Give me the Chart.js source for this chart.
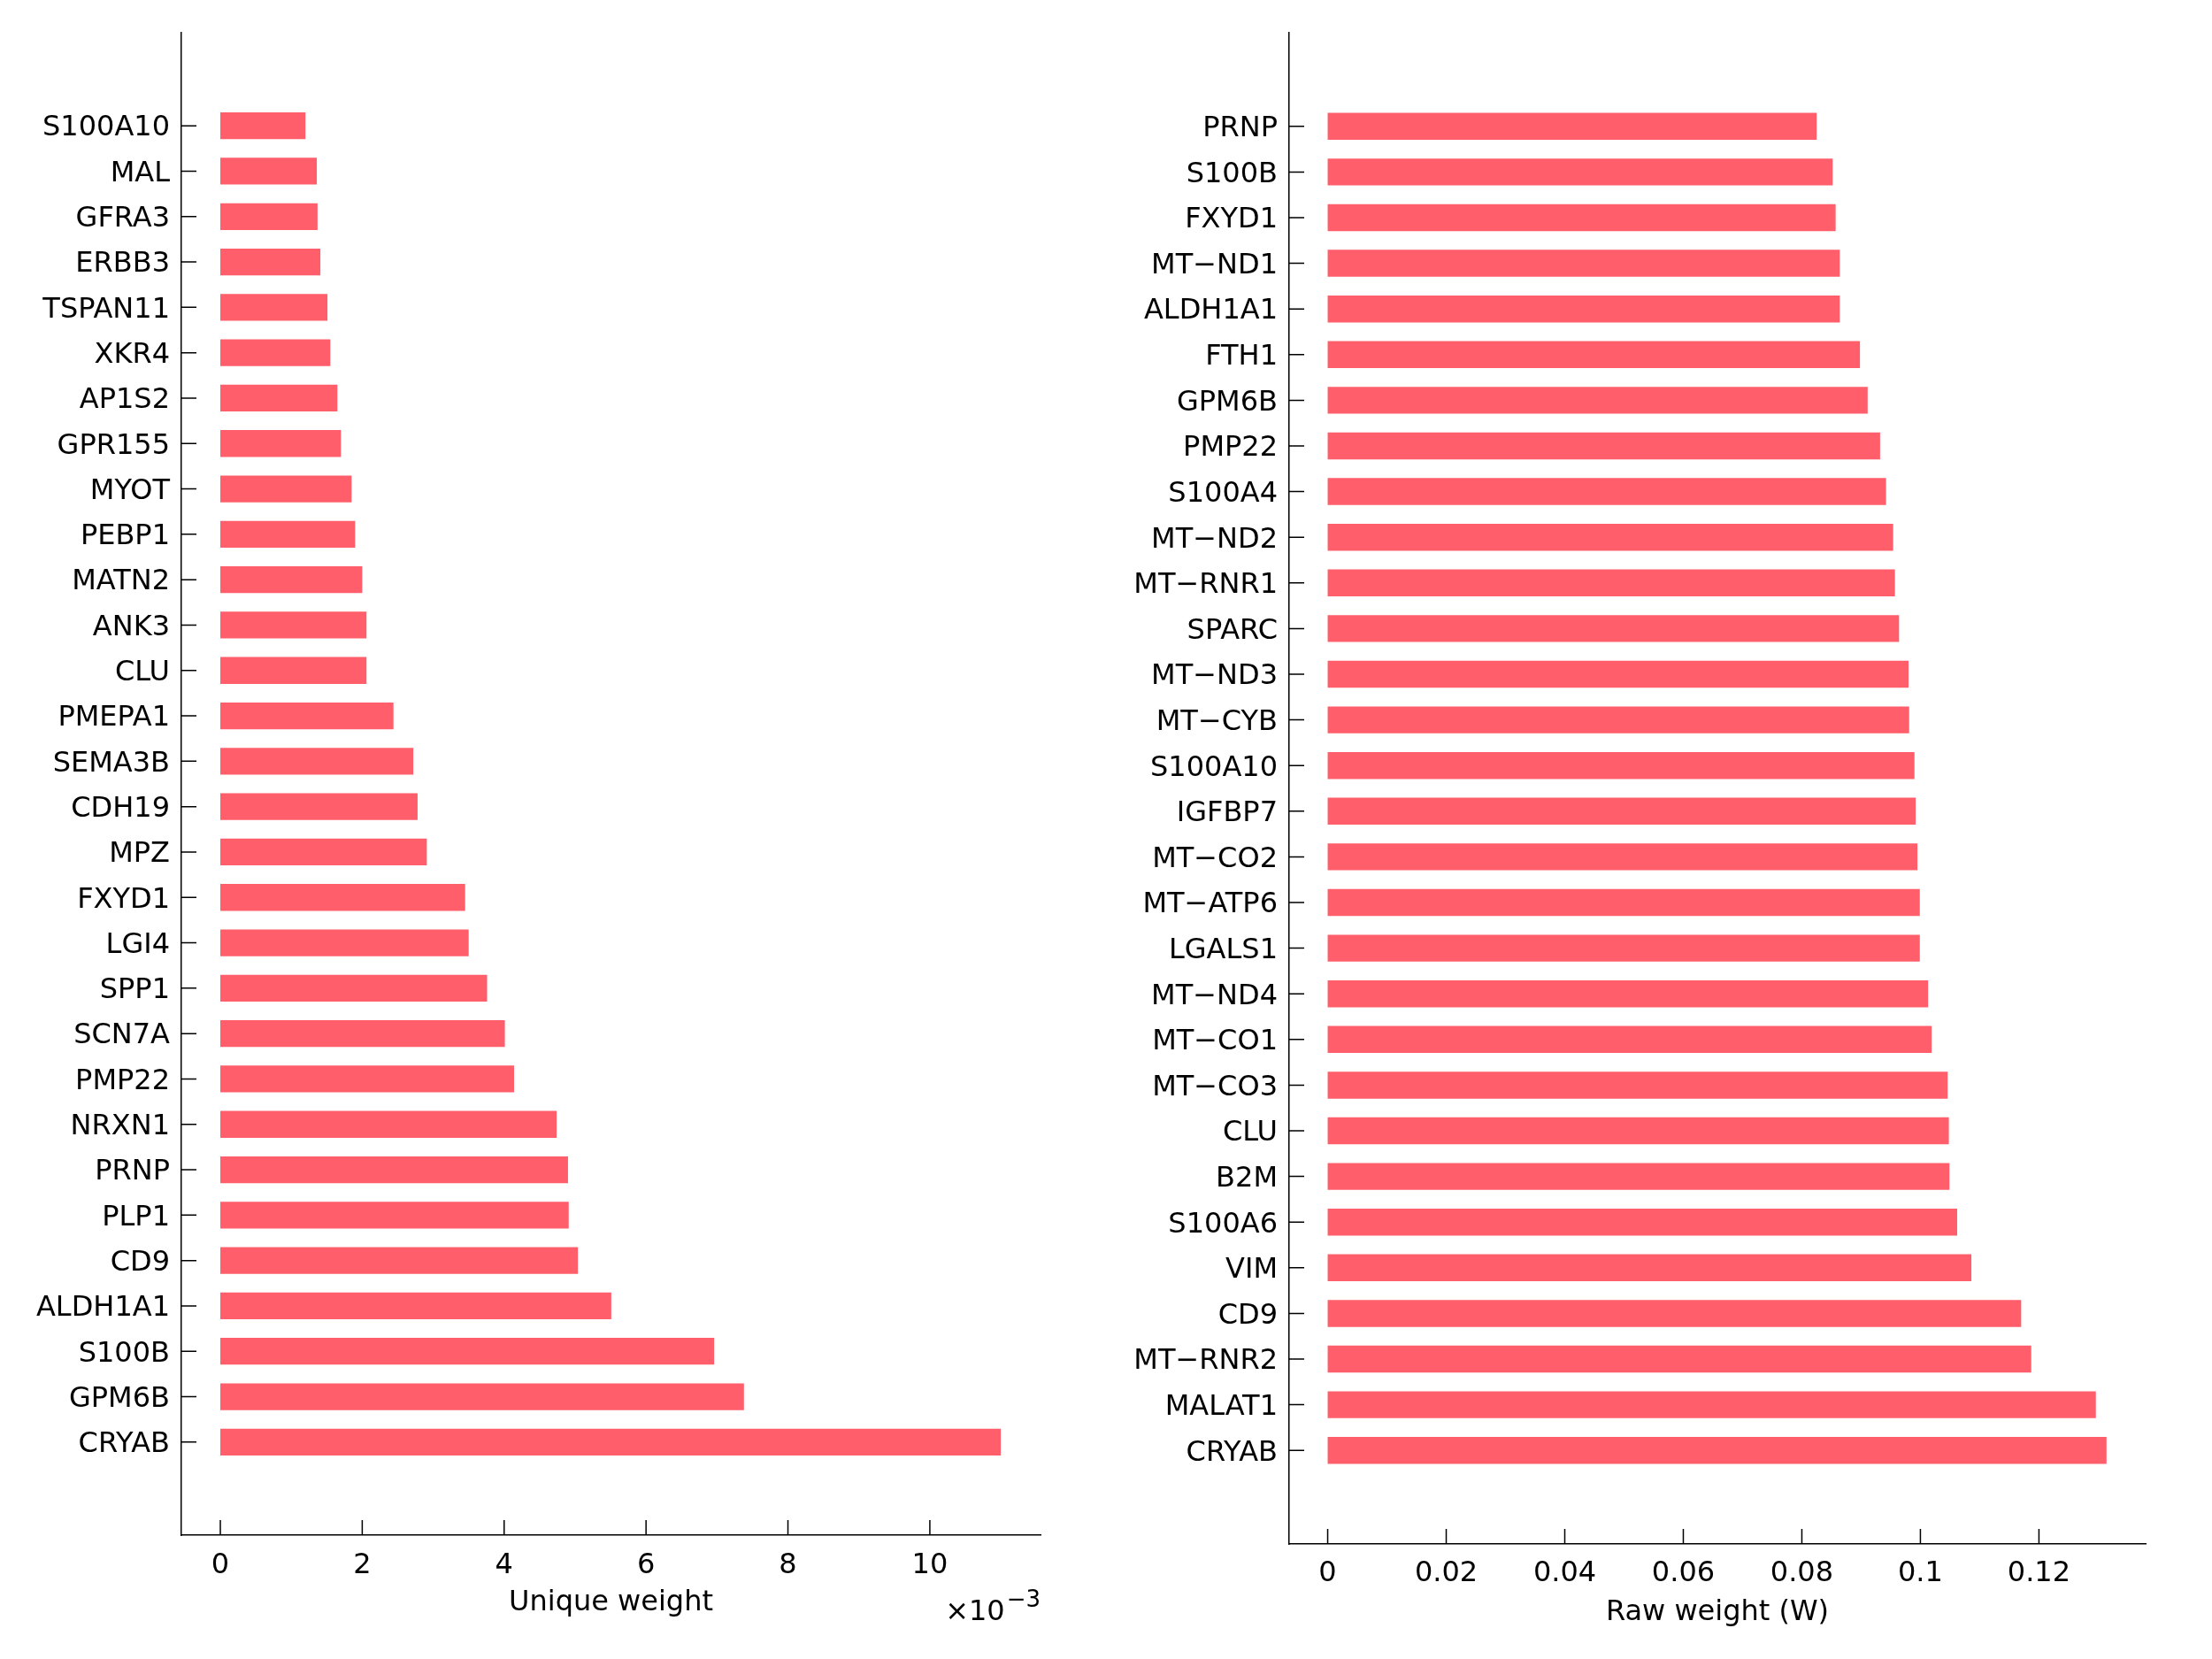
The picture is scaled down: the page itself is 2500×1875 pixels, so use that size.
<!DOCTYPE html>
<html>
<head>
<meta charset="utf-8">
<script src="https://cdn.jsdelivr.net/npm/chart.js@4"></script>
<style>
  body { margin: 0; background: #fff; }
  #wrap { position: relative; width: 2500px; height: 1875px; }
  .panel { position: absolute; top: 0; width: 1250px; height: 1875px; }
</style>
</head>
<body>
<div id="wrap">
  <div class="panel" style="left:0"><canvas id="left"></canvas></div>
  <div class="panel" style="left:1250px"><canvas id="right"></canvas></div>
</div>
<script>
// Left panel: unique weight (x 10^-3)
const uniqueGenes = ['S100A10', 'MAL', 'GFRA3', 'ERBB3', 'TSPAN11', 'XKR4', 'AP1S2', 'GPR155', 'MYOT', 'PEBP1',
  'MATN2', 'ANK3', 'CLU', 'PMEPA1', 'SEMA3B', 'CDH19', 'MPZ', 'FXYD1', 'LGI4', 'SPP1',
  'SCN7A', 'PMP22', 'NRXN1', 'PRNP', 'PLP1', 'CD9', 'ALDH1A1', 'S100B', 'GPM6B', 'CRYAB'];
const uniqueWeight = [1.20, 1.36, 1.37, 1.41, 1.51, 1.55, 1.65, 1.70, 1.85, 1.90,
  2.00, 2.06, 2.06, 2.44, 2.72, 2.78, 2.91, 3.45, 3.50, 3.76,
  4.01, 4.14, 4.74, 4.90, 4.91, 5.04, 5.51, 6.96, 7.38, 11.00];
const uniqueTicks = [0, 2, 4, 6, 8, 10];

// Right panel: raw weight (W)
const rawGenes = ['PRNP', 'S100B', 'FXYD1', 'MT\u2212ND1', 'ALDH1A1', 'FTH1', 'GPM6B', 'PMP22', 'S100A4', 'MT\u2212ND2',
  'MT\u2212RNR1', 'SPARC', 'MT\u2212ND3', 'MT\u2212CYB', 'S100A10', 'IGFBP7', 'MT\u2212CO2', 'MT\u2212ATP6', 'LGALS1', 'MT\u2212ND4',
  'MT\u2212CO1', 'MT\u2212CO3', 'CLU', 'B2M', 'S100A6', 'VIM', 'CD9', 'MT\u2212RNR2', 'MALAT1', 'CRYAB'];
const rawWeight = [0.0825, 0.0852, 0.0857, 0.0864, 0.0864, 0.0898, 0.0911, 0.0932, 0.0942, 0.0954,
  0.0957, 0.0964, 0.0980, 0.0981, 0.0990, 0.0992, 0.0995, 0.0999, 0.0999, 0.1013,
  0.1019, 0.1046, 0.1048, 0.1049, 0.1062, 0.1086, 0.1170, 0.1187, 0.1296, 0.1314];
const rawTicks = [0, 0.02, 0.04, 0.06, 0.08, 0.1, 0.12];

const barColor = 'rgb(255, 94, 106)';
const fontFamily = '"DejaVu Sans", sans-serif';

// MATLAB-style ticks pointing into the plot
const inwardTicks = {
  id: 'inwardTicks',
  afterDraw(chart) {
    const ctx = chart.ctx;
    const area = chart.chartArea;
    ctx.save();
    ctx.strokeStyle = '#000';
    ctx.lineWidth = 1.5;
    ctx.beginPath();
    chart.scales.x.ticks.forEach(t => {
      const px = chart.scales.x.getPixelForValue(t.value);
      ctx.moveTo(px, area.bottom);
      ctx.lineTo(px, area.bottom - 17);
    });
    chart.scales.y.ticks.forEach(t => {
      const py = chart.scales.y.getPixelForValue(t.value);
      ctx.moveTo(area.left, py);
      ctx.lineTo(area.left + 17, py);
    });
    ctx.stroke();
    ctx.restore();
  }
};

// exponent label under the right end of the left x axis
const exponentLabel = {
  id: 'exponentLabel',
  afterDraw(chart, args, opts) {
    if (!opts.show) return;
    const ctx = chart.ctx;
    const area = chart.chartArea;
    ctx.save();
    ctx.fillStyle = '#000';
    ctx.textBaseline = 'alphabetic';
    ctx.font = '26px ' + fontFamily;
    const sup = '\u22123';
    const w2 = ctx.measureText(sup).width;
    const xs = area.right - w2;
    ctx.textAlign = 'left';
    ctx.fillText(sup, xs, area.bottom + 81);
    ctx.font = '32px ' + fontFamily;
    ctx.textAlign = 'right';
    ctx.fillText('\u00d710', xs - 2, area.bottom + 96);
    ctx.restore();
  }
};

function makePanel(id, genes, values, ticks, xMin, xMax, title, geom) {
  new Chart(document.getElementById(id), {
    type: 'bar',
    data: {
      datasets: [{
        data: genes.map((g, i) => ({ x: values[i], y: i })),
        backgroundColor: barColor,
        borderWidth: 0,
        barPercentage: 0.59,
        categoryPercentage: 1.0
      }]
    },
    options: {
      indexAxis: 'y',
      responsive: false,
      animation: false,
      devicePixelRatio: 1,
      layout: { padding: { left: 0, top: 37, right: geom.right, bottom: 0 } },
      plugins: {
        legend: { display: false },
        tooltip: { enabled: false },
        exponentLabel: { show: geom.exponent }
      },
      scales: {
        x: {
          type: 'linear',
          min: xMin,
          max: xMax,
          offset: false,
          grid: { display: false, drawTicks: false },
          border: { display: true, color: '#000', width: 1.5 },
          afterBuildTicks: s => { s.ticks = ticks.map(v => ({ value: v })); },
          afterFit: s => { s.height = geom.xHeight; },
          ticks: {
            color: '#000',
            padding: geom.tickPad,
            font: { family: fontFamily, size: 32 },
            callback: v => String(+v.toFixed(3))
          },
          title: {
            display: true,
            text: title,
            color: '#000',
            font: { family: fontFamily, size: 32 },
            padding: { top: 0, bottom: geom.titlePad }
          }
        },
        y: {
          type: 'linear',
          reverse: true,
          offset: false,
          min: -2.05,
          max: 31.05,
          grid: { display: false, drawTicks: false, offset: false },
          border: { display: true, color: '#000', width: 1.5 },
          afterBuildTicks: s => { s.ticks = genes.map((g, i) => ({ value: i })); },
          afterFit: s => { s.width = geom.yWidth; },
          ticks: {
            color: '#000',
            padding: 13,
            labelOffset: 3,
            autoSkip: false,
            font: { family: fontFamily, size: 32 },
            callback: v => genes[v]
          }
        }
      }
    },
    plugins: [inwardTicks, exponentLabel]
  });
}

function setSize(id) {
  const c = document.getElementById(id);
  c.width = 1250;
  c.height = 1875;
  c.style.width = '1250px';
  c.style.height = '1875px';
}

setSize('left');
setSize('right');

makePanel('left', uniqueGenes, uniqueWeight, uniqueTicks, -0.549, 11.56, 'Unique weight',
  { right: 74, xHeight: 140, yWidth: 205, tickPad: 15, titlePad: 44, exponent: true });
makePanel('right', rawGenes, rawWeight, rawTicks, -0.0065, 0.138, 'Raw weight (W)',
  { right: 75, xHeight: 130, yWidth: 207, tickPad: 14, titlePad: 33, exponent: false });
</script>
</body>
</html>
